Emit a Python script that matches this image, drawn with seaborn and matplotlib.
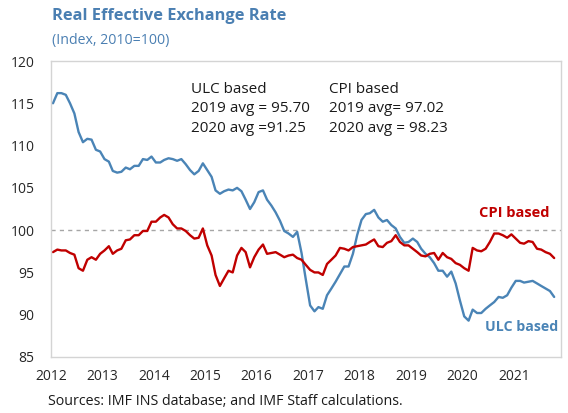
import pandas as pd
import numpy as np
import seaborn as sns
import matplotlib.pyplot as plt
import matplotlib.dates as mdates

# monthly index values, Jan 2012 - Oct 2021
ulc = [115.0, 116.2, 116.2, 116.0, 115.0, 113.8, 111.6, 110.4, 110.8, 110.7, 109.5, 109.3,
       108.4, 108.1, 107.0, 106.8, 106.9, 107.4, 107.2, 107.6, 107.6, 108.4, 108.3, 108.7,
       108.0, 108.0, 108.3, 108.5, 108.4, 108.2, 108.4, 107.8, 107.1, 106.6, 107.0, 107.9,
       107.1, 106.3, 104.7, 104.3, 104.6, 104.8, 104.7, 105.0, 104.6, 103.6, 102.5, 103.3,
       104.5, 104.7, 103.6, 102.9, 102.1, 101.1, 99.9, 99.6, 99.2, 99.8, 97.3, 94.2,
       91.1, 90.4, 90.9, 90.7, 92.3, 93.1, 93.9, 94.8, 95.7, 95.7, 97.2, 99.4,
       101.2, 101.9, 102.0, 102.4, 101.5, 101.0, 101.2, 100.6, 100.2, 99.2, 98.5, 98.6,
       99.0, 98.6, 97.8, 97.2, 96.8, 96.1, 95.2, 95.2, 94.5, 95.1, 93.7, 91.7,
       89.8, 89.3, 90.6, 90.2, 90.2, 90.7, 91.1, 91.5, 92.1, 92.0, 92.3, 93.2,
       94.0, 94.0, 93.8, 93.9, 94.0, 93.7, 93.4, 93.1, 92.8, 92.1]
cpi = [97.4, 97.7, 97.6, 97.6, 97.3, 97.1, 95.5, 95.2, 96.5, 96.8, 96.5, 97.2,
       97.6, 98.1, 97.2, 97.6, 97.8, 98.8, 98.9, 99.4, 99.4, 99.9, 99.9, 101.0,
       101.0, 101.5, 101.8, 101.5, 100.7, 100.2, 100.2, 99.9, 99.4, 99.0, 99.1, 100.2,
       98.2, 97.0, 94.7, 93.4, 94.3, 95.2, 95.0, 97.0, 97.9, 97.4, 95.6, 96.8,
       97.7, 98.3, 97.2, 97.3, 97.4, 97.1, 96.8, 97.0, 97.1, 96.7, 96.5, 95.9,
       95.3, 95.0, 95.0, 94.7, 96.0, 96.5, 97.0, 97.9, 97.8, 97.6, 98.0, 98.1,
       98.2, 98.3, 98.6, 98.9, 98.1, 98.0, 98.5, 98.7, 99.4, 98.6, 98.2, 98.2,
       97.8, 97.4, 97.0, 96.9, 97.2, 97.3, 96.5, 97.3, 96.8, 96.6, 96.1, 95.9,
       95.5, 95.2, 97.9, 97.6, 97.5, 97.8, 98.6, 99.6, 99.6, 99.4, 99.1, 99.5,
       99.0, 98.5, 98.4, 98.7, 98.6, 97.8, 97.7, 97.4, 97.2, 96.7]
dates = pd.date_range('2012-01-01', periods=len(ulc), freq='MS') + pd.Timedelta(days=14)

df = pd.DataFrame({'date': dates, 'ULC': ulc, 'CPI': cpi})

blue = '#4a84b6'
red = '#c00000'

sns.set_style('white')
plt.rcParams['font.family'] = ['Open Sans', 'DejaVu Sans']

fig = plt.figure(figsize=(5.68, 4.13), dpi=100)
ax = fig.add_axes([0.0898, 0.1356, 0.898, 0.7167])

sns.lineplot(data=df, x='date', y='ULC', color=blue, linewidth=1.7, ax=ax)
sns.lineplot(data=df, x='date', y='CPI', color=red, linewidth=1.7, ax=ax)
ax.axhline(100, color='#a6a6a6', linestyle=(0, (3, 3)), linewidth=1.0, zorder=0)

ax.set_ylim(85, 120)
ax.set_yticks(range(85, 121, 5))
ax.set_xlim(pd.Timestamp('2012-01-01'), pd.Timestamp('2021-12-03'))
ax.xaxis.set_major_locator(mdates.YearLocator())
ax.xaxis.set_major_formatter(mdates.DateFormatter('%Y'))
ax.set_xlabel('')
ax.set_ylabel('')
ax.tick_params(axis='x', direction='in', length=4, color='#d0d0d0', labelsize=10, pad=9)
ax.tick_params(axis='y', length=0, labelsize=10, pad=12)
for s in ax.spines.values():
    s.set_color('#d4d4d4')
    s.set_linewidth(1.0)

ax.text(0.274, 0.93, 'ULC based\n2019 avg = 95.70\n2020 avg =91.25', transform=ax.transAxes,
        fontsize=11, va='top', linespacing=1.42, color='#1a1a1a')
ax.text(0.545, 0.93, 'CPI based\n2019 avg= 97.02\n2020 avg = 98.23', transform=ax.transAxes,
        fontsize=11, va='top', linespacing=1.42, color='#1a1a1a')
ax.text(0.977, 0.487, 'CPI based', transform=ax.transAxes, fontsize=10.5, fontweight='bold',
        color=red, ha='right', va='center')
ax.text(0.995, 0.10, 'ULC based', transform=ax.transAxes, fontsize=10.2, fontweight='bold',
        color=blue, ha='right', va='center')

fig.text(0.092, 0.962, 'Real Effective Exchange Rate', fontsize=11.8, fontweight='bold',
         color='#4a7fb2', va='center')
fig.text(0.092, 0.903, '(Index, 2010=100)', fontsize=10.2, color='#4a7fb2', va='center')
fig.text(0.085, 0.027, 'Sources: IMF INS database; and IMF Staff calculations.', fontsize=10.3,
         color='#1a1a1a', va='center')

plt.savefig('out.png', dpi=100)
